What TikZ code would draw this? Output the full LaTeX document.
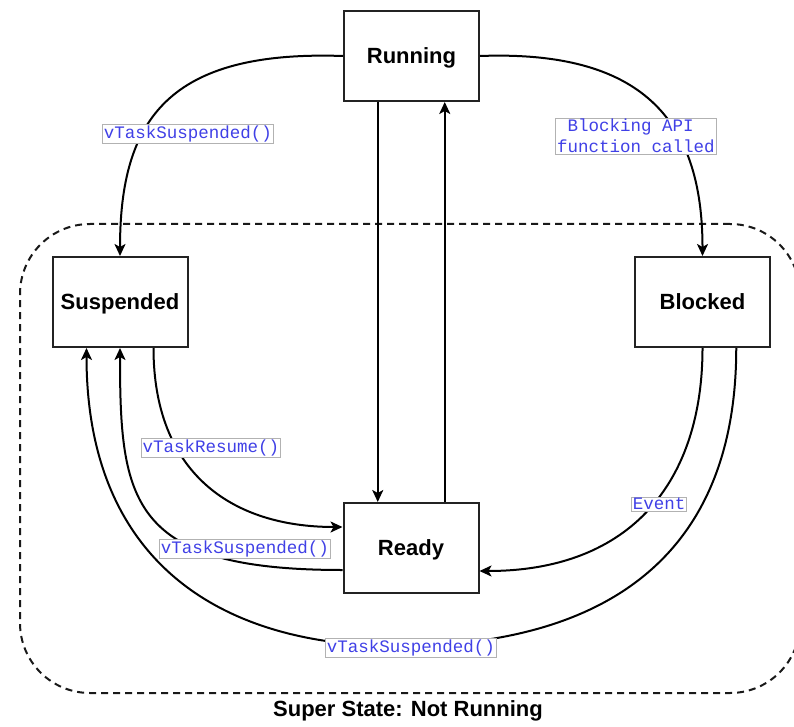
\documentclass[tikz,border=0pt]{standalone}
\usepackage{fontspec}
\setmainfont{Liberation Sans}
\newfontfamily\codefont{Liberation Mono}
\usetikzlibrary{arrows.meta}
\definecolor{codeblue}{RGB}{64,64,230}
\definecolor{boxline}{RGB}{35,35,35}
\begin{document}
\begin{tikzpicture}[x=1pt,y=-1pt,
  statebox/.style={draw=boxline, line width=2pt, fill=white,
    minimum width=135pt, minimum height=90pt, inner sep=0pt,
    text height=15.8pt, text depth=0pt,
    font=\fontsize{22}{25}\selectfont\bfseries},
  trans/.style={line width=2pt, -{Stealth[length=12pt,width=11pt,inset=3pt]}},
  evlabel/.style={fill=white, draw=black!30, line width=0.8pt, text=codeblue,
    font=\codefont\fontsize{17.5}{21}\selectfont,
    inner xsep=1.5pt, inner ysep=1pt, align=center},
  superstate/.style={draw=black!90, line width=2pt, dash pattern=on 7pt off 5pt,
    rounded corners=70pt, minimum width=780pt, minimum height=469pt},
]
\useasboundingbox (0,0) rectangle (794,727);
\clip (0,0) rectangle (794,727);

% super state container
\node[superstate] (super) at (410,458.5) {};
\node[font=\fontsize{22}{25}\selectfont\bfseries, anchor=base] (supername)
  at (408,716) {Super State: Not Running};

% states
\node[statebox] (run)   at (411.5,56) {Running};
\node[statebox] (susp)  at (120,302)  {Suspended};
\node[statebox] (blk)   at (702.5,302) {Blocked};
\node[statebox] (ready) at (411,548)  {Ready};

% transitions
\draw[trans] (run.west) .. controls +(-174,-6) and +(0,-137) .. (susp.north);
\draw[trans] (run.east) .. controls +(161,-6) and +(0,-137) .. (blk.north);
\draw[trans] ([xshift=-33.75pt]run.south) -- ([xshift=-33.75pt]run.south |- ready.north);
\draw[trans] ([xshift=33.75pt]ready.north) -- ([xshift=33.75pt]ready.north |- run.south);
\draw[trans] ([xshift=33.5pt]susp.south) .. controls +(0,123) and +(-113,0) .. ([yshift=21pt]ready.west);
\draw[trans] ([yshift=-22pt]ready.west) .. controls +(-213,0) and +(0,153) .. (susp.south);
\draw[trans] (blk.south) .. controls +(0,133) and +(152,0) .. ([yshift=-23pt]ready.east);
\coordinate (dip) at (411,646);
\draw[trans] ([xshift=33.75pt]blk.south) .. controls +(0,213) and +(189,-4) .. (dip)
  .. controls +(-191,4) and +(0,213) .. ([xshift=-33.5pt]susp.south);

% transition labels
\node[evlabel] (l1) at (188,134) {vTaskSuspended()};
\node[evlabel] (l2) at (636,136) {Blocking API\hphantom{x}\\function called};
\node[evlabel] (l3) at (211,448) {vTaskResume()};
\node[evlabel] (l4) at (245,549) {vTaskSuspended()};
\node[evlabel] (l5) at (659,504) {Event};
\node[evlabel] (l6) at (411,648) {vTaskSuspended()};
\end{tikzpicture}
\end{document}
